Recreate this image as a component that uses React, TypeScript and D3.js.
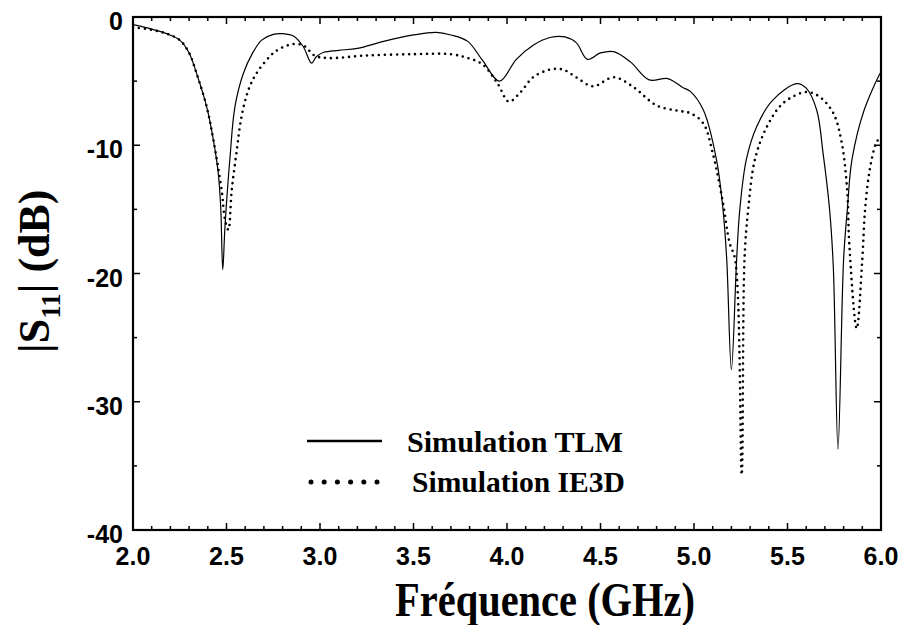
import React from "react";
import * as d3 from "d3";

// ---- data ----
const tlmFreq = [
  2.0, 2.1, 2.18, 2.25, 2.3, 2.34, 2.394, 2.43, 2.456, 2.469, 2.48, 2.492, 2.519, 2.545, 2.59, 2.64,
  2.688, 2.75, 2.8, 2.86, 2.91, 2.955, 2.98, 3.02, 3.1, 3.2, 3.34, 3.5, 3.62, 3.7, 3.79, 3.87, 3.96,
  4.05, 4.14, 4.23, 4.31, 4.37, 4.43, 4.5, 4.57, 4.66, 4.76, 4.86, 4.94, 4.98, 5.05, 5.12, 5.155,
  5.175, 5.2, 5.228, 5.245, 5.28, 5.335, 5.42, 5.55, 5.6, 5.656, 5.69, 5.725, 5.745, 5.77, 5.8, 5.82,
  5.845, 5.91, 5.995, 6.0,
];
const tlmS11 = [
  -0.6, -0.95, -1.3, -1.8, -2.8, -4.4, -7.0, -9.6, -12.2, -14.8, -19.7, -16.3, -10.9, -7.0, -4.4, -2.8,
  -1.8, -1.35, -1.3, -1.5, -2.3, -3.6, -3.1, -2.75, -2.6, -2.45, -1.9, -1.4, -1.2, -1.4, -1.9, -3.4, -5.0,
  -3.3, -2.2, -1.6, -1.55, -2.0, -3.3, -2.8, -2.7, -3.5, -4.9, -4.8, -5.5, -5.8, -7.25, -11.1, -15.0,
  -18.9, -27.5, -18.9, -15.0, -11.1, -8.55, -6.5, -5.2, -5.55, -7.25, -10.6, -15.0, -19.5, -33.7, -18.9, -15.0,
  -11.1, -7.25, -4.4, -4.3,
];
const ie3dFreq = [
  2.0, 2.1, 2.18, 2.25, 2.3, 2.34, 2.394, 2.43, 2.474, 2.492, 2.51, 2.528, 2.555, 2.58, 2.617, 2.66,
  2.73, 2.77, 2.83, 2.88, 2.92, 2.97, 3.04, 3.25, 3.5, 3.7, 3.79, 3.87, 3.95, 4.01, 4.07, 4.14, 4.23,
  4.3, 4.37, 4.46, 4.57, 4.67, 4.8, 4.91, 4.98, 5.05, 5.1, 5.155, 5.19, 5.22, 5.255, 5.27, 5.29, 5.326,
  5.39, 5.478, 5.6, 5.67, 5.745, 5.79, 5.82, 5.83, 5.87, 5.9, 5.915, 5.94, 5.975, 6.0,
];
const ie3dS11 = [
  -0.8, -1.0, -1.3, -1.8, -2.8, -4.4, -7.0, -9.6, -13.5, -15.8, -16.6, -13.5, -10.4, -7.8, -5.7, -4.4,
  -3.1, -2.6, -2.2, -2.1, -2.3, -3.0, -3.2, -3.0, -2.9, -2.9, -3.2, -3.7, -5.2, -6.6, -5.9, -4.7, -4.1,
  -4.1, -4.7, -5.4, -4.7, -5.4, -6.9, -7.3, -7.5, -8.3, -10.6, -14.5, -17.6, -18.9, -35.7, -18.9, -15.0, -11.1,
  -8.55, -6.7, -5.85, -6.2, -7.5, -9.8, -13.7, -17.6, -24.3, -18.9, -15.0, -11.9, -9.8, -9.3,
];
const xTickLabels = ["2.0", "2.5", "3.0", "3.5", "4.0", "4.5", "5.0", "5.5", "6.0"];
const yTickLabels = ["0", "-10", "-20", "-30", "-40"];
const legendLabels = ["Simulation TLM", "Simulation IE3D"];

const W = 902;
const H = 625;
const L = 133, R = 881, T = 17, B = 530;

export default function App() {
  const x = d3.scaleLinear().domain([2, 6]).range([L, R]);
  const y = d3.scaleLinear().domain([-40, 0]).range([B, T]);

  const line = d3
    .line<[number, number]>()
    .x((d) => x(d[0]))
    .y((d) => y(d[1]))
    .curve(d3.curveCatmullRom.alpha(0.5));

  const tlm = line(tlmFreq.map((f, i) => [f, tlmS11[i]] as [number, number])) || "";
  const ie3d = line(ie3dFreq.map((f, i) => [f, ie3dS11[i]] as [number, number])) || "";

  const xMinor = d3.range(0, 41).map((i) => 2 + i * 0.1);
  const yMinor = d3.range(0, 9).map((i) => -40 + i * 5);

  const sans = "'Liberation Sans', Arial, sans-serif";
  const serif = "'Liberation Serif', 'Times New Roman', serif";

  return (
    <svg
      width={W}
      height={H}
      style={{ position: "absolute", left: 0, top: 0, background: "#fff", display: "block" }}
    >
      <rect x={0} y={0} width={W} height={H} fill="#fff" />
      <defs>
        <clipPath id="plot">
          <rect x={L} y={T} width={R - L} height={B - T} />
        </clipPath>
      </defs>

      {/* ticks */}
      <g stroke="#000" strokeWidth={1.5}>
        {xMinor.map((f, i) => {
          const len = i % 5 === 0 ? 7 : 4;
          const px = x(f);
          return (
            <g key={"xt" + i}>
              <line x1={px} x2={px} y1={B} y2={B - len} />
              <line x1={px} x2={px} y1={T} y2={T + len} />
            </g>
          );
        })}
        {yMinor.map((v, i) => {
          const len = i % 2 === 0 ? 7 : 4;
          const py = y(v);
          return (
            <g key={"yt" + i}>
              <line x1={L} x2={L + len} y1={py} y2={py} />
              <line x1={R} x2={R - len} y1={py} y2={py} />
            </g>
          );
        })}
      </g>

      {/* curves */}
      <g clipPath="url(#plot)" fill="none" stroke="#000">
        <path d={tlm} strokeWidth={1.2} />
        <path d={ie3d} strokeWidth={2.6} strokeDasharray="0,6" strokeLinecap="round" />
      </g>

      {/* frame */}
      <rect x={L} y={T} width={R - L} height={B - T} fill="none" stroke="#000" strokeWidth={2.2} />

      {/* tick labels */}
      <g fontFamily={sans} fontWeight="bold" fontSize={25} fill="#000">
        {xTickLabels.map((t) => (
          <text key={"xl" + t} x={x(+t)} y={565} textAnchor="middle">
            {t}
          </text>
        ))}
        {yTickLabels.map((t) => (
          <text key={"yl" + t} x={123} y={y(+t) + 13} textAnchor="end">
            {t}
          </text>
        ))}
      </g>

      {/* legend */}
      <line x1={307} x2={382} y1={441} y2={441} stroke="#000" strokeWidth={2.4} />
      <line x1={311} x2={377} y1={482} y2={482} stroke="#000" strokeWidth={5} strokeDasharray="0,13.2" strokeLinecap="round" />
      <g fontFamily={serif} fontWeight="bold" fontSize={30} fill="#000">
        <text x={407} y={452} textLength={216} lengthAdjust="spacingAndGlyphs">
          {legendLabels[0]}
        </text>
        <text x={412} y={492} textLength={213} lengthAdjust="spacingAndGlyphs">
          {legendLabels[1]}
        </text>
      </g>

      {/* axis titles */}
      <text
        x={395}
        y={616}
        fontFamily={serif}
        fontWeight="bold"
        fontSize={48}
        textLength={300}
        lengthAdjust="spacingAndGlyphs"
      >
        Fréquence (GHz)
      </text>
      <text
        transform="translate(49,353) rotate(-90)"
        x={0}
        y={0}
        fontFamily={serif}
        fontWeight="bold"
        fontSize={44}
      >
        |S
        <tspan fontSize={27} dy={11}>11</tspan>
        <tspan dy={-11}>| (dB)</tspan>
      </text>
    </svg>
  );
}
